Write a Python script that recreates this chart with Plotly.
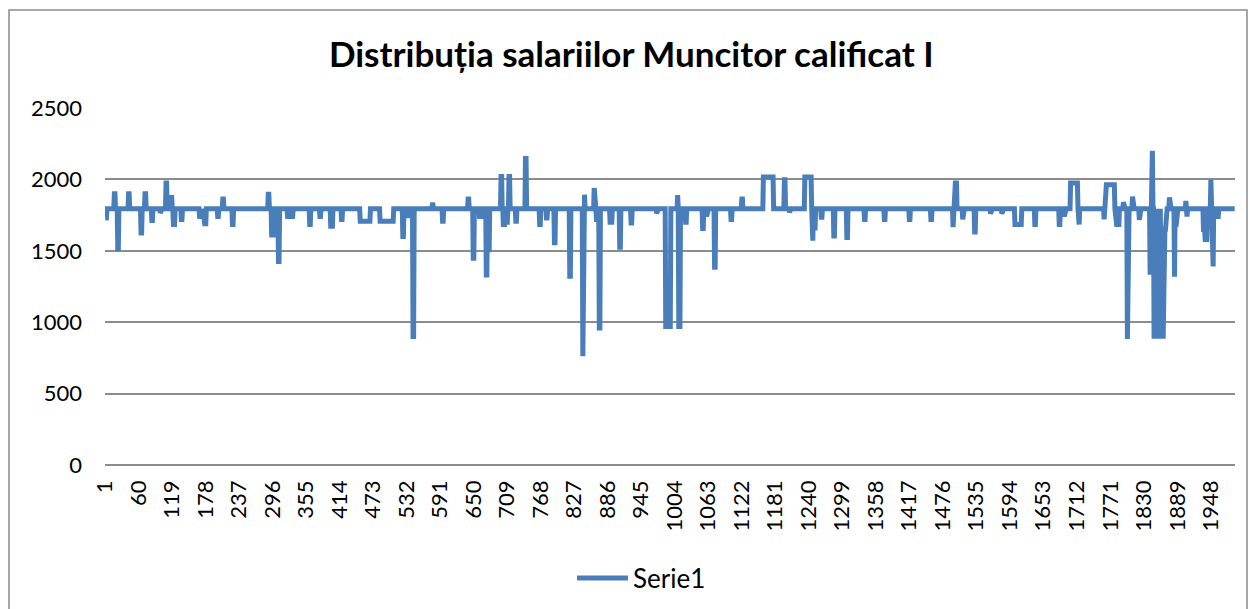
import plotly.graph_objects as go

# ---- data ----
n_points = 1990
baseline = 1795
series_name = "Serie1"
# segments of consecutive points that differ from the baseline: start index, end index, value
seg_start = [1, 17, 23, 42, 64, 71, 83, 98, 108, 117, 121, 135, 167, 174, 199, 208, 225, 288, 294, 306, 322,
             328, 361, 379, 398, 417, 450, 485, 525, 534, 543, 577, 595, 640, 649, 660,
             672, 675, 698, 702, 708, 712, 724, 741, 766, 778, 792, 819, 842, 845, 862, 866, 871, 890, 907, 927,
             972, 988, 1009, 1011, 1023,
             1053, 1060, 1074, 1103, 1122, 1160, 1197, 1206, 1233, 1246, 1250, 1262, 1284, 1307,
             1338, 1373, 1417, 1455, 1494, 1497, 1511, 1532, 1560, 1580, 1603, 1638,
             1681, 1690, 1701, 1715, 1760, 1762, 1780, 1794, 1801, 1810, 1822, 1841, 1845,
             1860, 1848, 1850, 1852, 1854, 1856, 1858, 1860, 1862, 1864, 1866,
             1875, 1884, 1886, 1904, 1906, 1935, 1938, 1948, 1952, 1960]
seg_end = [3, 18, 24, 43, 65, 72, 84, 98, 109, 118, 123, 136, 172, 178, 200, 209, 226, 289, 297, 307, 323,
           331, 362, 380, 401, 418, 467, 508, 526, 535, 544, 578, 596, 641, 650, 666,
           673, 677, 699, 704, 709, 713, 725, 742, 767, 779, 793, 820, 842, 845, 862, 867, 872, 893, 908, 928,
           972, 996, 1009, 1013, 1024,
           1054, 1060, 1075, 1104, 1123, 1177, 1198, 1206, 1244, 1247, 1251, 1263, 1285, 1308,
           1339, 1374, 1418, 1456, 1494, 1500, 1511, 1533, 1560, 1580, 1614, 1639,
           1682, 1690, 1713, 1716, 1760, 1778, 1786, 1794, 1801, 1810, 1822, 1841, 1845,
           1868, 1848, 1850, 1852, 1854, 1856, 1858, 1860, 1862, 1864, 1866,
           1875, 1884, 1887, 1904, 1906, 1937, 1941, 1948, 1952, 1961]
seg_value = [1730, 1900, 1515, 1900, 1625, 1900, 1712, 1765, 1975, 1873, 1684, 1720, 1740, 1690, 1740, 1863, 1684, 1896, 1610, 1425, 1740,
             1740, 1684, 1740, 1672, 1720, 1707, 1707, 1601, 1745, 900, 1823, 1707, 1863, 1448, 1740,
             1330, 1490, 2021, 1684, 1700, 2021, 1707, 2146, 1684, 1730, 1557, 1321, 761, 1893, 1940, 1720, 959, 1700, 1524, 1695,
             1762, 970, 1890, 970, 1700,
             1656, 1740, 1384, 1720, 1863, 2016, 1998, 1770, 2016, 1571, 1660, 1735, 1604, 1594,
             1720, 1720, 1720, 1720, 1665, 1974, 1720, 1632, 1760, 1760, 1684, 1684,
             1684, 1740, 1974, 1684, 1720, 1962, 1684, 1840, 882, 1880, 1717, 1333, 2200,
             1650, 885, 890, 885, 890, 885, 890, 885, 890, 885, 890,
             1874, 1318, 1684, 1850, 1740, 1650, 1580, 1998, 1391, 1740]
tick_labels = [1, 60, 119, 178, 237, 296, 355, 414, 473, 532, 591, 650, 709, 768, 827, 886, 945, 1004, 1063,
               1122, 1181, 1240, 1299, 1358, 1417, 1476, 1535, 1594, 1653, 1712, 1771, 1830, 1889, 1948]
y_ticks = [0, 500, 1000, 1500, 2000, 2500]

x = list(range(1, n_points + 1))
y = [baseline] * n_points
for s, e, v in zip(seg_start, seg_end, seg_value):
    for i in range(s, e + 1):
        y[i - 1] = v

FONT = "Lato, Carlito, 'Open Sans', sans-serif"
GRID = "#8c8c8c"
LINE_COLOR = "#4a7ebb"

# pixel helpers for the plot-area geometry (plot area: x 105..1235, y 108..465)
def px_x(p):
    return (p - 105) / 1130

def px_y(p):
    return (465 - p) / 357

fig = go.Figure()
fig.add_trace(go.Scatter(x=x, y=y, mode="lines", name=series_name, showlegend=False,
                         line=dict(color=LINE_COLOR, width=5)))

fig.update_layout(
    width=1250, height=609,
    margin=dict(l=105, r=15, t=108, b=144),
    paper_bgcolor="white", plot_bgcolor="white",
    font=dict(family=FONT, size=22, color="#000000"),
    title=dict(text="<b>Distribuția salariilor Muncitor calificat I</b>",
               x=0.505, xanchor="center", y=1 - 55 / 609, yanchor="middle",
               font=dict(family=FONT, size=35, color="#000000")),
    showlegend=False,
    xaxis=dict(range=[0.5, n_points + 0.5], tickmode="array",
               tickvals=tick_labels, ticktext=[str(t) for t in tick_labels],
               tickangle=-90, showgrid=False, zeroline=False,
               showline=False, ticks="", ticklabelstandoff=10,
               tickfont=dict(family=FONT, size=22)),
    yaxis=dict(range=[0, 2500], tickmode="array", tickvals=y_ticks,
               ticktext=[str(t) for t in y_ticks],
               showgrid=True, gridcolor=GRID, gridwidth=1.5,
               zeroline=True, zerolinecolor=GRID, zerolinewidth=1.5,
               showline=False, ticks="", ticklabelstandoff=22,
               tickfont=dict(family=FONT, size=22)),
)

# chart frame
fig.add_shape(type="rect", xref="paper", yref="paper",
              x0=px_x(9), x1=px_x(1247), y0=-0.6, y1=px_y(10),
              line=dict(color="#8a8a8a", width=1.5), fillcolor="rgba(0,0,0,0)", layer="below")

# legend (Excel-style long line sample + label)
fig.add_shape(type="line", xref="paper", yref="paper",
              x0=px_x(577), x1=px_x(628), y0=px_y(578), y1=px_y(578),
              line=dict(color=LINE_COLOR, width=5))
fig.add_annotation(text=series_name, xref="paper", yref="paper",
                   x=px_x(631), y=px_y(578), xanchor="left", yanchor="middle",
                   showarrow=False, font=dict(family=FONT, size=26, color="#000000"))

fig.write_html("out.html", config={"displayModeBar": False},
               post_script="document.body.style.margin='0';")
